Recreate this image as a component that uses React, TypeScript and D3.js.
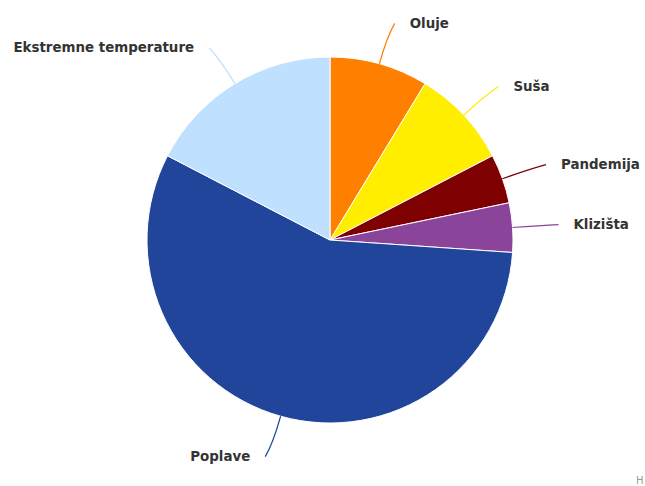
import { useEffect, useRef } from "react";
import * as d3 from "d3";

const categories = ["Oluje", "Suša", "Pandemija", "Klizišta", "Poplave", "Ekstremne temperature"];
const values = [2, 2, 1, 1, 13, 4];
const colors = ["#ff8000", "#ffee00", "#7f0000", "#8a459b", "#21459b", "#bfe0ff"];

export default function App() {
  const svgRef = useRef<SVGSVGElement>(null);

  useEffect(() => {
    if (!svgRef.current) return;
    const svg = d3.select(svgRef.current);
    svg.selectAll("*").remove();

    const cx = 330;
    const cy = 240;
    const radius = 183;

    const pie = d3.pie<number>().sort(null).value((d) => d);
    const arcs = pie(values);
    const arc = d3.arc<d3.PieArcDatum<number>>().innerRadius(0).outerRadius(radius);

    const g = svg.append("g").attr("transform", `translate(${cx},${cy})`);

    g.selectAll("path.slice")
      .data(arcs)
      .enter()
      .append("path")
      .attr("class", "slice")
      .attr("d", arc)
      .attr("fill", (_, i) => colors[i])
      .attr("stroke", "#ffffff")
      .attr("stroke-width", 1);

    // connectors + labels
    const pt = (a: number, r: number) => [r * Math.sin(a), -r * Math.cos(a)];
    arcs.forEach((d, i) => {
      const mid = (d.startAngle + d.endAngle) / 2;
      const side = Math.sin(mid) >= 0 ? 1 : -1;
      const [x0, y0] = pt(mid, radius);
      const [xc, yc] = pt(mid, radius + 28);
      const [xe0, ye] = pt(mid, radius + 42);
      const xe = xe0 + 4 * side;

      g.append("path")
        .attr("d", `M${x0},${y0} Q${xc},${yc} ${xe},${ye}`)
        .attr("fill", "none")
        .attr("stroke", colors[i])
        .attr("stroke-width", 1.2);

      g.append("text")
        .attr("x", xe + (side > 0 ? 15 : -15))
        .attr("y", ye)
        .attr("dy", "0.35em")
        .attr("text-anchor", side > 0 ? "start" : "end")
        .attr("font-family", "'DejaVu Sans', Verdana, sans-serif")
        .attr("font-size", "13.4px")
        .attr("font-weight", "bold")
        .attr("fill", "#333333")
        .text(categories[i]);
    });

    svg.append("text")
      .attr("x", 636)
      .attr("y", 484)
      .attr("font-family", "'DejaVu Sans', Verdana, sans-serif")
      .attr("font-size", "10px")
      .attr("fill", "#999999")
      .text("H");
  }, []);

  return (
    <svg
      ref={svgRef}
      width={645}
      height={486}
      style={{ position: "absolute", left: 0, top: 0, background: "#ffffff" }}
    />
  );
}
